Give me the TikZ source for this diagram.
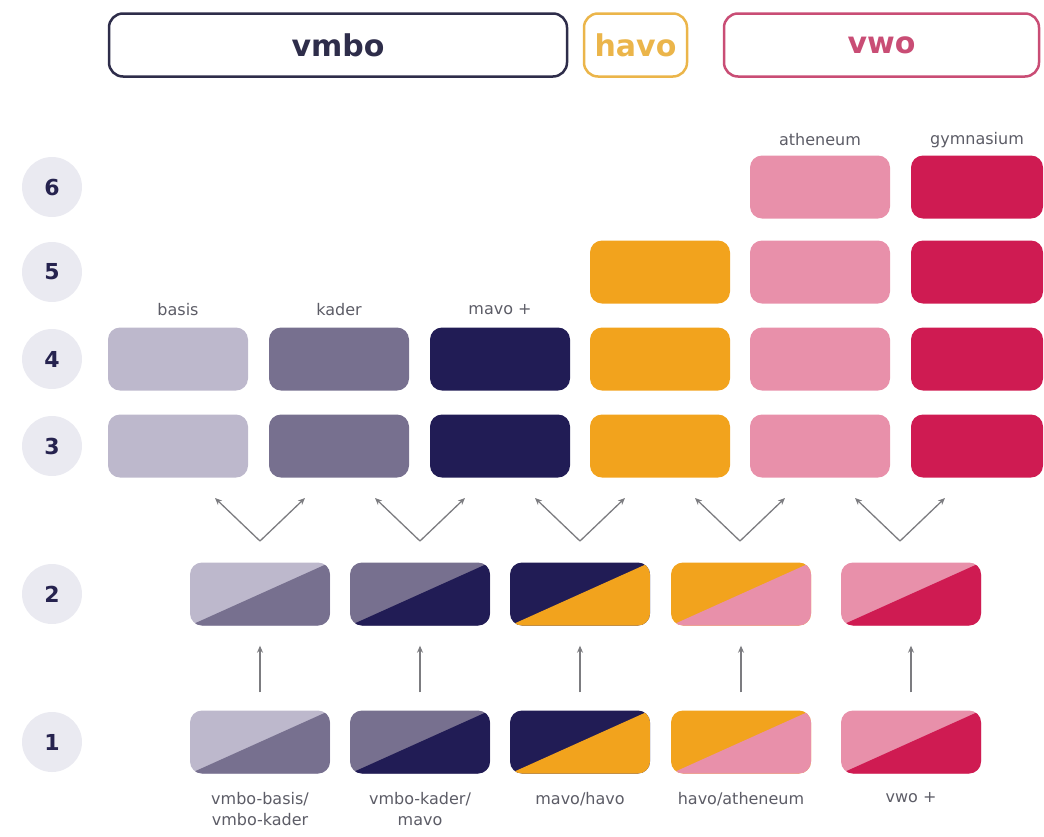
\documentclass[tikz,border=0pt]{standalone}
\usepackage{fontspec}
\setmainfont{DejaVu Sans}
\usetikzlibrary{arrows.meta}

\definecolor{basis}{HTML}{BDB8CC}
\definecolor{kader}{HTML}{77708F}
\definecolor{mavo}{HTML}{211C55}
\definecolor{havo}{HTML}{F2A31D}
\definecolor{athen}{HTML}{E890AA}
\definecolor{gym}{HTML}{CF1B52}
\definecolor{cirkel}{HTML}{EAEAF1}
\definecolor{inkt}{HTML}{26234F}
\definecolor{grijs}{HTML}{5C5C66}
\definecolor{pijlgrijs}{HTML}{7C7C80}
\definecolor{kopvmbo}{HTML}{2E2D4A}
\definecolor{kophavo}{HTML}{EBB54A}
\definecolor{kopvwo}{HTML}{C94D75}

\tikzset{
  blok/.style={rounded corners=12pt, minimum width=140pt, minimum height=63pt, inner sep=0pt},
  col-basis/.style={fill=basis},
  col-kader/.style={fill=kader},
  col-mavo/.style={fill=mavo},
  col-havo/.style={fill=havo},
  col-athen/.style={fill=athen},
  col-gym/.style={fill=gym, minimum width=132pt},
  duo/.style 2 args={blok, fill=#1, path picture={
      \fill[#2, sharp corners] (path picture bounding box.south west)
        -- (path picture bounding box.north east)
        -- (path picture bounding box.south east) -- cycle;}},
  kop/.style={draw=#1, text=#1, line width=2.5pt, rounded corners=14pt,
    minimum height=63pt, inner sep=0pt, font=\fontsize{30}{30}\selectfont\bfseries},
  jaar/.style={circle, fill=cirkel, text=inkt, minimum size=60pt, inner sep=0pt,
    font=\fontsize{22}{22}\selectfont\bfseries},
  bijschrift/.style={text=grijs, font=\fontsize{16}{21}\selectfont, align=center, inner sep=0pt},
  pijl/.style={draw=pijlgrijs, line width=1.3pt, -{Stealth[length=7pt,width=6pt]}}
}

\begin{document}
\begin{tikzpicture}[x=1pt, y=-1pt]

  \useasboundingbox (0,0) rectangle (1044,836);

  %% schooltypes
  \node[kop=kopvmbo, minimum width=458pt] (vmbo) at (338,45) {vmbo};
  \node[kop=kophavo, minimum width=103pt] (havo) at (635.5,45) {havo};
  \node[kop=kopvwo, minimum width=315pt] (vwo) at (881.5,45) {vwo};

  %% leerjaren
  \foreach \j/\y in {6/187, 5/272, 4/359, 3/446, 2/594, 1/742}
    \node[jaar] (j\j) at (52,\y) {\j};

  %% bovenbouw
  \foreach \x/\kl in {178/basis, 339/kader, 500/mavo, 660/havo, 820/athen, 977/gym}
    \foreach \r/\y in {3/446, 4/359}
      \node[blok, col-\kl] (\kl-\r) at (\x,\y) {};
  \foreach \x/\kl in {660/havo, 820/athen, 977/gym}
    \node[blok, col-\kl] (\kl-5) at (\x,272) {};
  \foreach \x/\kl in {820/athen, 977/gym}
    \node[blok, col-\kl] (\kl-6) at (\x,187) {};

  \node[bijschrift] (lbasis) at (178,310) {basis};
  \node[bijschrift] (lkader) at (339,310) {kader};
  \node[bijschrift] (lmavo) at (500,310) {mavo +};
  \node[bijschrift] (lathen) at (820,140) {atheneum};
  \node[bijschrift] (lgym) at (977,140) {gymnasium};

  %% onderbouw, jaar 1 en 2
  \foreach \k/\x/\a/\b in {1/260/basis/kader, 2/420/kader/mavo, 3/580/mavo/havo,
                            4/741/havo/athen, 5/911/athen/gym}{
    \node[duo={\a}{\b}] (t\k) at (\x,594) {};
    \node[duo={\a}{\b}] (e\k) at (\x,742) {};
    \draw[pijl, shorten <=18pt, shorten >=20pt] (e\k.north) -- (t\k.south);
  }

  \foreach \k/\x in {1/260, 2/420, 3/580, 4/740, 5/900}{
    \coordinate (v\k) at (\x,541);
    \coordinate (vl\k) at (\x-45,498);
    \coordinate (vr\k) at (\x+45,498);
    \draw[pijl] (v\k) -- (vl\k);
    \draw[pijl] (v\k) -- (vr\k);
  }

  \node[bijschrift, anchor=north] (o1) at (260,792) {vmbo-basis/\\vmbo-kader};
  \node[bijschrift, anchor=north] (o2) at (420,792) {vmbo-kader/\\mavo};
  \node[bijschrift, anchor=north] (o3) at (580,792) {mavo/havo};
  \node[bijschrift, anchor=north] (o4) at (741,792) {havo/atheneum};
  \node[bijschrift, anchor=north] (o5) at (911,792) {vwo +};

\end{tikzpicture}
\end{document}
